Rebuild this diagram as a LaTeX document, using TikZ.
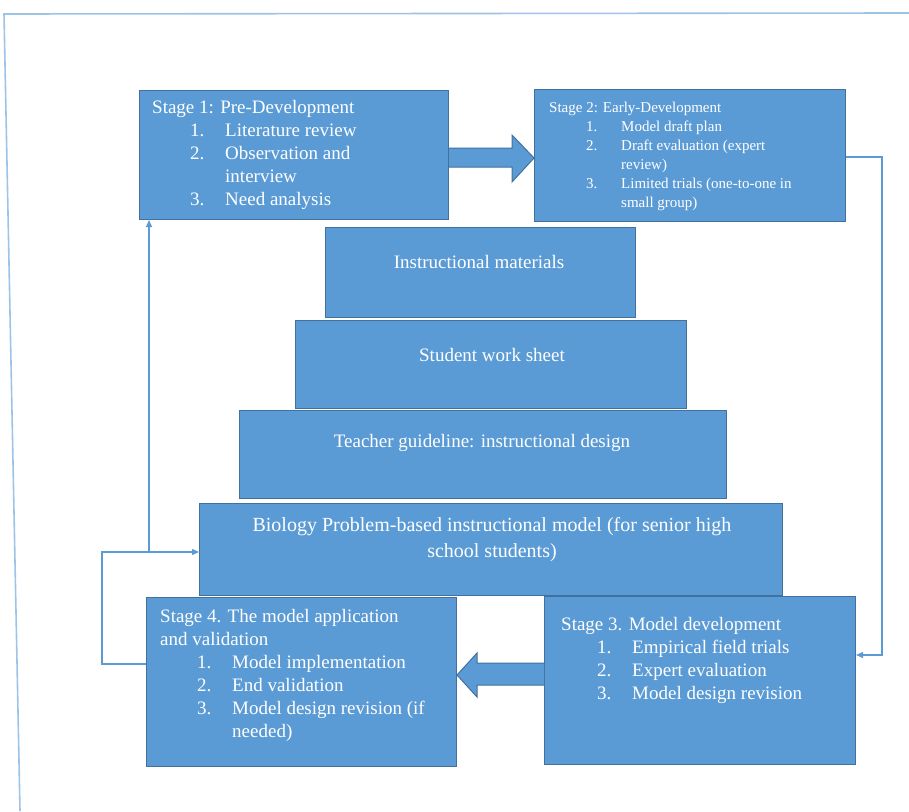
\documentclass[tikz,border=0pt]{standalone}
\usepackage{fontspec}
\newfontfamily\tnr{LiberationSerif}[Extension=.ttf, UprightFont=*-Regular]
\usetikzlibrary{arrows.meta}
\definecolor{boxfill}{RGB}{91,155,213}
\definecolor{boxline}{RGB}{65,113,156}
\definecolor{thinline}{RGB}{91,155,213}
\definecolor{framecol}{RGB}{157,195,230}
\newcommand\numit[4]{\makebox[#1][l]{\hspace*{#2}#3}#4}
\begin{document}
\begin{tikzpicture}[x=1pt,y=-1pt,
  box/.style={draw=boxline, line width=1pt, fill=boxfill, anchor=north west, inner sep=0pt},
  big/.style={text=white, font=\tnr\fontsize{19}{23}\selectfont, inner sep=0pt, align=left, anchor=north west},
  small/.style={text=white, font=\tnr\fontsize{15}{19}\selectfont, inner sep=0pt, align=left, anchor=north west},
  mid/.style={text=white, font=\tnr\fontsize{19}{26}\selectfont, inner sep=0pt, align=center},
  conn/.style={draw=thinline, line width=1.3pt},
  blockarrow/.style={draw=boxline, line width=1pt, fill=boxfill}]
\useasboundingbox (0,0) rectangle (909,811);
% outer frame
\draw[framecol, line width=1.6pt] (909,13) -- (4,14) -- (20,811);
% boxes
\node[box, minimum width=309pt, minimum height=129pt] (s1) at (139,90) {};
\node[box, minimum width=311pt, minimum height=132pt] (s2) at (534,89) {};
\node[box, minimum width=310pt, minimum height=90pt] (im) at (325,227) {};
\node[box, minimum width=391pt, minimum height=88pt] (sw) at (295,320) {};
\node[box, minimum width=487pt, minimum height=88pt] (tg) at (239,410) {};
\node[box, minimum width=583pt, minimum height=92pt] (bio) at (199,503) {};
\node[box, minimum width=310pt, minimum height=169pt] (s4) at (146,597) {};
\node[box, minimum width=311pt, minimum height=168pt] (s3) at (544,596) {};
% texts
\node[big] (s1t) at (152,100) {Stage 1: Pre-Development\\
\numit{73pt}{38pt}{1.}{Literature review}\\
\numit{73pt}{38pt}{2.}{Observation and}\\
\hspace*{73pt}interview\\
\numit{73pt}{38pt}{3.}{Need analysis}};
\node[small] (s2t) at (549,102) {Stage 2: Early-Development\\
\numit{72pt}{37pt}{1.}{Model draft plan}\\
\numit{72pt}{37pt}{2.}{Draft evaluation (expert}\\
\hspace*{72pt}review)\\
\numit{72pt}{37pt}{3.}{Limited trials (one-to-one in}\\
\hspace*{72pt}small group)};
\node[mid] (imt) at (479,262) {Instructional materials};
\node[mid] (swt) at (492,355) {Student work sheet};
\node[mid] (tgt) at (482,443) {Teacher guideline: instructional design};
\node[mid, font=\tnr\fontsize{20}{26}\selectfont] (biot) at (492,540) {Biology Problem-based instructional model (for senior high\\school students)};
\node[big] (s4t) at (160,609) {Stage 4. The model application\\
and validation\\
\numit{72pt}{37pt}{1.}{Model implementation}\\
\numit{72pt}{37pt}{2.}{End validation}\\
\numit{72pt}{37pt}{3.}{Model design revision (if}\\
\hspace*{72pt}needed)};
\node[big] (s3t) at (561,617) {Stage 3. Model development\\
\numit{71pt}{36pt}{1.}{Empirical field trials}\\
\numit{71pt}{36pt}{2.}{Expert evaluation}\\
\numit{71pt}{36pt}{3.}{Model design revision}};
% block arrows
\draw[blockarrow] (s1.east |- 0,148) -- (512,148) -- (512,135) -- (s2.west |- 0,158) -- (512,182) -- (512,167) -- (s1.east |- 0,167);
\draw[blockarrow] (s3.west |- 0,663) -- (477,663) -- (477,653) -- (s4.east |- 0,675) -- (477,697) -- (477,685) -- (s3.west |- 0,685);
% thin connectors
\draw[conn, -{Triangle[length=7pt,width=6pt]}] (s2.east |- 0,157) -- (882,157) -- (882,655) -- (s3.east |- 0,655);
\coordinate (j) at (149,552);
\draw[conn, -{Triangle[length=7pt,width=6pt]}] (s4.west |- 0,664) -- (102,664) -- (102,552) -- (bio.west |- 0,552);
\draw[conn, -{Triangle[length=7pt,width=6pt]}] (j) -- (j |- s1.south);
\end{tikzpicture}
\end{document}
